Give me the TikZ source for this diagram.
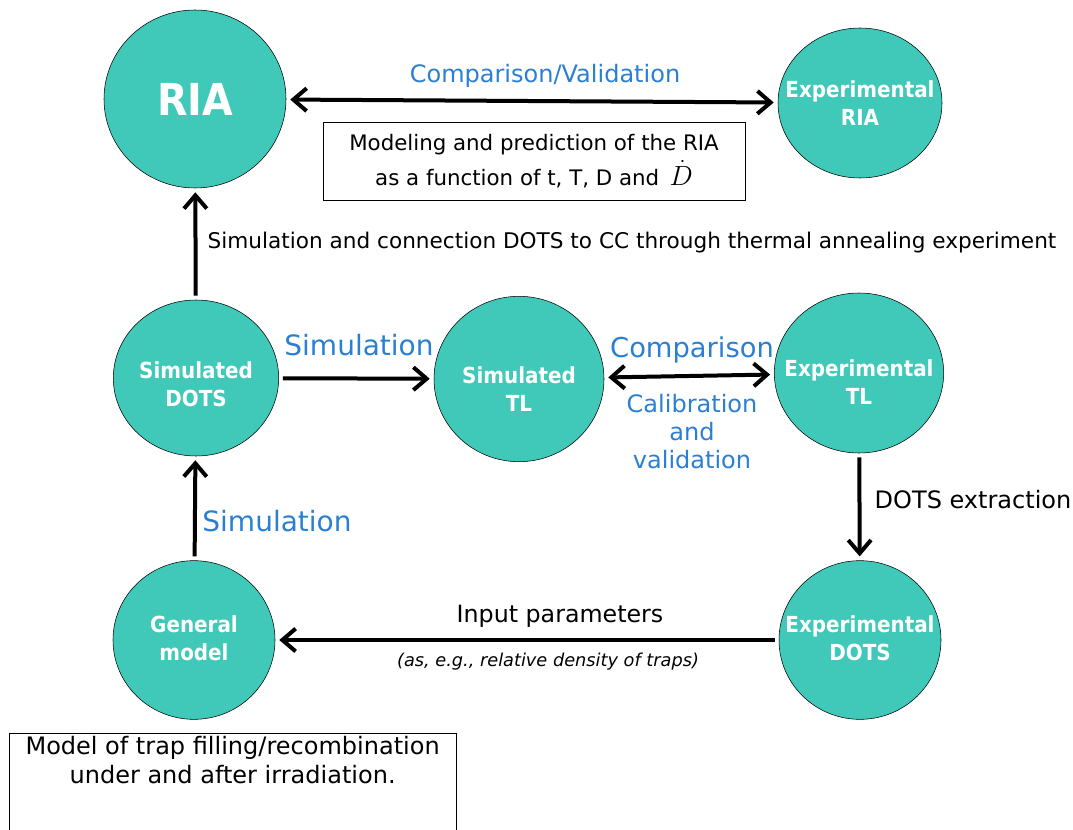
\documentclass[tikz,border=0pt]{standalone}
\usepackage{fontspec}
\setmainfont{DejaVu Sans}
\newfontfamily\stagefont{DejaVu Sans Condensed}
\usepackage{amsmath}
\usetikzlibrary{arrows.meta, positioning, shapes.geometric}
\definecolor{riateal}{HTML}{40C9B8}
\definecolor{riablue}{HTML}{2B7FD3}
\definecolor{riadark}{HTML}{000000}
\tikzset{
  stage/.style={ellipse, draw=riadark, fill=riateal, inner sep=0pt},
  stagetext/.style={text=white, align=center, inner sep=0pt,
                    font=\stagefont\fontsize{16.6}{21}\selectfont\bfseries},
  flow/.style={-{Straight Barb[length=3.5mm, width=6mm]}, line width=3pt, draw=riadark,
               shorten >=3pt, shorten <=3pt},
  flowboth/.style={flow, {Straight Barb[length=3.5mm, width=6mm]}-{Straight Barb[length=3.5mm, width=6mm]}},
  bluelbl/.style={text=riablue, font=\fontsize{18}{21}\selectfont, align=center},
  biglbl/.style={text=riablue, font=\fontsize{21}{24}\selectfont},
  lbl/.style={font=\fontsize{18}{21}\selectfont, align=center},
  notebox/.style={draw=riadark, thin, align=center, font=\fontsize{16}{26}\selectfont},
}
\begin{document}
\begin{tikzpicture}[x=0.75pt, y=-0.75pt]
  \clip (0,0) rectangle (1073,830);
  \useasboundingbox (0,0) rectangle (1073,830);
  % stages
  \node[stage, minimum width=136.5pt, minimum height=133.5pt] (ria) at (195,99) {};
  \node[stage, minimum width=123pt, minimum height=112.5pt] (expria) at (860,103) {};
  \node[stage, minimum width=124pt, minimum height=117pt] (simdots) at (196,378) {};
  \node[stage, minimum width=127.5pt, minimum height=124pt] (simtl) at (519,379) {};
  \node[stage, minimum width=127pt, minimum height=120pt] (exptl) at (859,373) {};
  \node[stage, minimum width=121.5pt, minimum height=119pt] (expdots) at (860,640) {};
  \node[stage, minimum width=121.5pt, minimum height=119pt] (genmodel) at (194,640) {};
  % stage captions
  \node[stagetext, font=\stagefont\fontsize{33}{36}\selectfont\bfseries] (riatxt) at (ria) {RIA};
  \node[stagetext] (expriatxt) at (expria) {Experimental\\RIA};
  \node[stagetext, yshift=-4.5pt] (simdotstxt) at (simdots) {Simulated\\DOTS};
  \node[stagetext, yshift=-7.5pt] (simtltxt) at (simtl) {Simulated\\TL};
  \node[stagetext, yshift=-6.5pt] (exptltxt) at (exptl) {Experimental\\TL};
  \node[stagetext, yshift=1pt] (expdotstxt) at (expdots) {Experimental\\DOTS};
  \node[stagetext, yshift=1pt] (genmodeltxt) at (genmodel) {General\\model};
  % notes
  \node[notebox, minimum width=316.5pt, minimum height=58.5pt] (riabox) at (534,161)
    {Modeling and prediction of the RIA\\as a function of t, T, D and\, {\fontsize{21}{21}\selectfont$\dot{D}$}};
  \node[draw=riadark, thin, minimum width=335pt, minimum height=90pt, anchor=north west,
        inner sep=0pt, font=\fontsize{18}{21.75}\selectfont] (trapbox) at (9,733)
    {\parbox[t][90pt][t]{335pt}{\centering\vspace{2pt}Model of trap filling/recombination\\under and after irradiation.}};
  % connectors
  \draw[flowboth] (ria) -- (expria);
  \draw[flow] (simdots) -- (ria);
  \draw[flow] (simdots) -- (simtl);
  \draw[flowboth] (simtl) -- (exptl);
  \draw[flow] (exptl) -- (expdots);
  \draw[flow] (genmodel) -- (simdots);
  \draw[flow] (expdots) -- (genmodel);
  % labels
  \node[bluelbl] (cvlbl) at (545,76) {Comparison/Validation};
  \node[lbl, anchor=west, font=\fontsize{16.2}{19}\selectfont] (annlbl) at (203,243)
    {Simulation and connection DOTS to CC through thermal annealing experiment};
  \node[biglbl] (simlbla) at (359,345) {Simulation};
  \node[biglbl, font=\fontsize{20.5}{24}\selectfont] (cmplbl) at (692,350) {Comparison};
  \node[bluelbl, font=\fontsize{18}{21}\selectfont] (callbl) at (692,432) {Calibration\\and\\validation};
  \node[lbl, anchor=west] (extlbl) at (870,500) {DOTS extraction};
  \node[biglbl] (simlblb) at (277,521) {Simulation};
  \node[lbl, font=\fontsize{17.8}{21}\selectfont] (inplbl) at (560,616) {Input parameters};
  \node[font=\fontsize{13.3}{15}\selectfont\itshape] (inpnote) at (548,662)
    {(as, e.g., relative density of traps)};
\end{tikzpicture}
\end{document}
